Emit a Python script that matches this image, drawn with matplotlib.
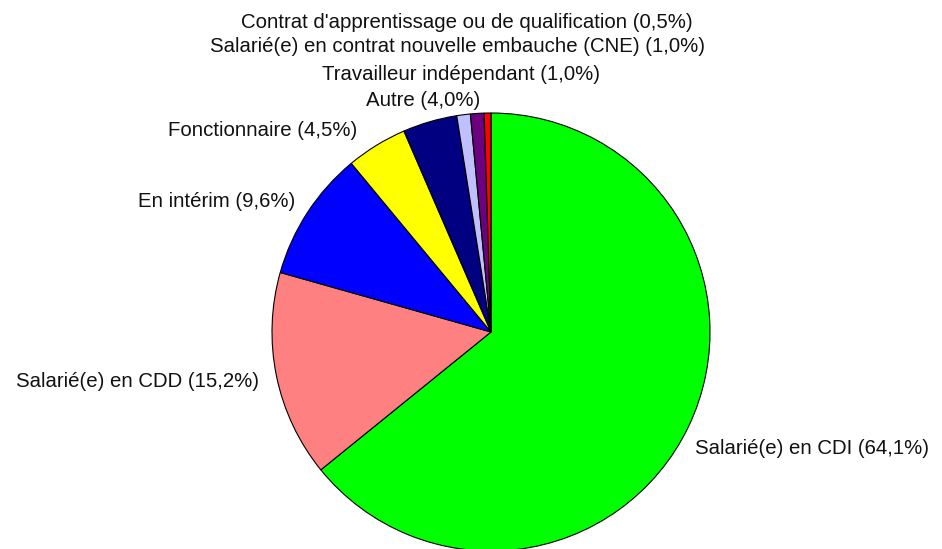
import numpy as np
import matplotlib.pyplot as plt

labels = ["Salarié(e) en CDI", "Salarié(e) en CDD", "En intérim", "Fonctionnaire",
          "Autre", "Travailleur indépendant",
          "Salarié(e) en contrat nouvelle embauche (CNE)",
          "Contrat d'apprentissage ou de qualification"]
values = [64.1, 15.2, 9.6, 4.5, 4.0, 1.0, 1.0, 0.5]
colors = ["#00FF00", "#FF8080", "#0000FF", "#FFFF00", "#000080", "#C0C0FF", "#6C0080", "#FF0000"]

# label anchor positions in pie-radius units, and alignment
label_pos = [(0.932, -0.530, "left"), (-1.059, -0.228, "right"), (-1.612, 0.598, "left"),
             (-1.475, 0.922, "left"), (-0.311, 1.059, "center"), (-0.137, 1.178, "center"),
             (-0.155, 1.305, "center"), (-0.110, 1.412, "center")]

plt.rcParams['font.family'] = ['Liberation Sans', 'DejaVu Sans']

fig = plt.figure(figsize=(9.42, 5.49), dpi=100)
ax = fig.add_axes([0, 0, 1, 1])
R = 219.0
cx, cy = 491.0, 549 - 332.0
ax.pie(values, colors=colors, startangle=90, counterclock=False, radius=1,
       wedgeprops=dict(edgecolor="black", linewidth=0.8))
ax.set_xlim(-cx / R, (942 - cx) / R)
ax.set_ylim(-cy / R, (549 - cy) / R)
ax.set_aspect("equal")
ax.axis("off")

for lab, v, (x, y, ha) in zip(labels, values, label_pos):
    txt = f"{lab} ({v:.1f}%)".replace(".", ",")
    ax.text(x, y, txt, ha=ha, va="center", fontsize=14.7, color="#111111")

fig.savefig("out.png", dpi=100)
